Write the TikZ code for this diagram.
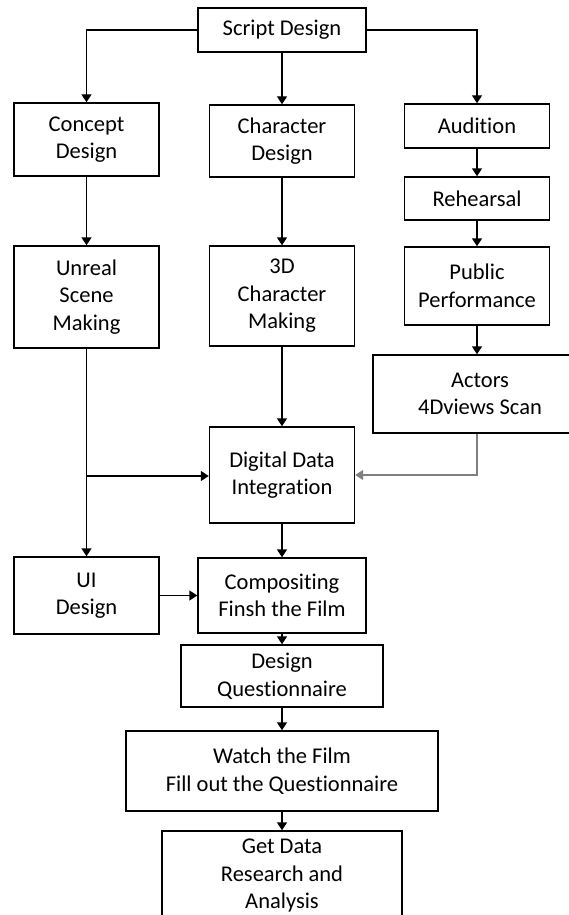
\documentclass[tikz,border=0pt]{standalone}
\usepackage{fontspec}
\setmainfont[Ligatures=NoCommon]{Carlito}
\usetikzlibrary{arrows.meta}

\tikzset{
	box/.style={draw, line width=1.4pt, inner sep=0pt, align=center,
		font=\fontsize{22.5}{27.5}\selectfont},
	flow/.style={line width=1.4pt, -{Triangle[length=8pt,width=10pt]}}
}

\begin{document}
\begin{tikzpicture}[x=1pt, y=-1pt]
	\useasboundingbox (0,0) rectangle (569,915);

	% Draw boxes
	%Top
	\node (script) at (282,30) [box, minimum width=168pt, minimum height=44pt] {Script Design};
	%Left column
	\node (concept) at (86.5,139.5) [box, minimum width=145pt, minimum height=73pt] {Concept\\Design};
	\node (unreal) at (86.5,297) [box, minimum width=145pt, minimum height=102pt] {Unreal\\Scene\\Making};
	\node (ui) at (86.5,595.5) [box, minimum width=145pt, minimum height=77pt] {UI\\Design};
	%Middle column
	\node (chardesign) at (282,141) [box, minimum width=145pt, minimum height=72pt] {Character\\Design};
	\node (char3d) at (282,296) [box, minimum width=145pt, minimum height=100pt] {3D\\Character\\Making};
	\node (digital) at (282,475) [box, minimum width=145pt, minimum height=96pt] {Digital Data\\Integration};
	\node (comp) at (282,595.5) [box, minimum width=168pt, minimum height=75pt] {Compositing\\Finsh the Film};
	\node (quest) at (282,676) [box, minimum width=202pt, minimum height=62pt] {Design\\Questionnaire};
	\node (watch) at (282,771) [box, minimum width=312pt, minimum height=80pt] {Watch the Film\\Fill out the Questionnaire};
	\node (getdata) at (282,876) [box, minimum width=240pt, minimum height=90pt] {Get Data\\Research and\\Analysis};
	%Right column
	\node (audition) at (477,126) [box, minimum width=145pt, minimum height=44pt] {Audition};
	\node (rehearsal) at (477,198.5) [box, minimum width=145pt, minimum height=43pt] {Rehearsal};
	\node (public) at (477,286) [box, minimum width=145pt, minimum height=78pt] {Public\\Performance};
	\node (actors) at (480,394) [box, minimum width=214pt, minimum height=78pt] {Actors\\4Dviews Scan};

	% Draw arrows
	\draw[flow] (script.west) -| (concept.north);
	\draw[flow] (script) -- (chardesign);
	\draw[flow] (script.east) -| (audition.north);

	\draw[flow] (concept) -- (unreal);
	\draw[flow] (unreal) -- (ui);
	\coordinate (split) at (86.5,476);
	\draw[flow] (split) -- (split -| digital.west);

	\draw[flow] (chardesign) -- (char3d);
	\draw[flow] (char3d) -- (digital);
	\draw[flow] (digital) -- (comp);
	\draw[flow] (ui) -- (comp);
	\draw[flow] (comp) -- (quest);
	\draw[flow] (quest) -- (watch);
	\draw[flow] (watch) -- (getdata);

	\draw[flow] (audition) -- (rehearsal);
	\draw[flow] (rehearsal) -- (public);
	\draw[flow] (public.south) -- (public.south |- actors.north);
	\draw[flow, draw=gray] (public.south |- actors.south) |- (digital.east);

\end{tikzpicture}
\end{document}
